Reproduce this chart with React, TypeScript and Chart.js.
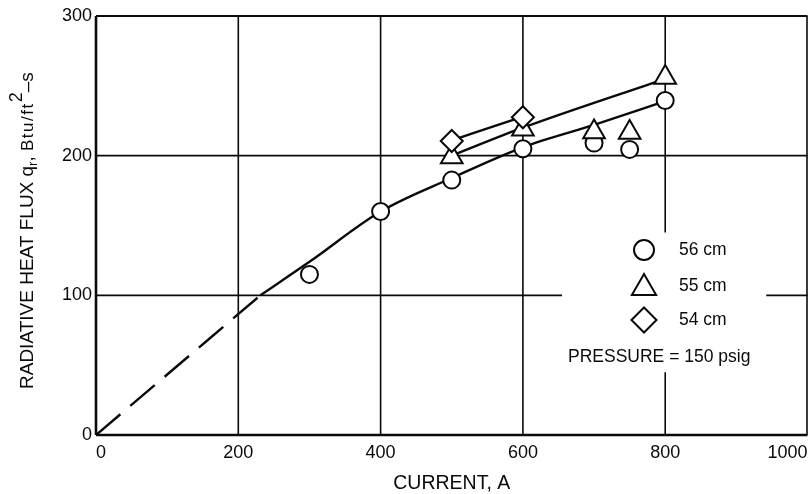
import React, { useEffect, useRef } from 'react';
import { Chart, registerables } from 'chart.js';

Chart.register(...registerables);

// ---- data ----
const xTickValues = [0, 200, 400, 600, 800, 1000];
const yTickValues = [0, 100, 200, 300];

const current56 = [300, 400, 500, 600, 700, 750, 800];
const flux56 = [115, 160, 182.5, 205, 209, 204.5, 239.5];

const current55 = [500, 600, 700, 750, 800];
const flux55 = [199, 219, 217, 216.5, 256];

const current54 = [500, 600];
const flux54 = [210.5, 227.5];

const fitDashX = [0, 231];
const fitDashY = [0, 100];
const fit56X = [231, 300, 400, 500, 600, 700, 800];
const fit56Y = [100, 124, 160, 184, 206, 222, 239];
const fit55X = [500, 600, 800];
const fit55Y = [200, 220, 255];
const fit54X = [500, 600];
const fit54Y = [211, 228];

const legendLabels = ['56 cm', '55 cm', '54 cm'];
const noteText = 'PRESSURE = 150 psig';
const xTitle = 'CURRENT, A';

const zip = (xs: number[], ys: number[]) => xs.map((x, i) => ({ x, y: ys[i] }));

const INK = '#0a0a0a';
const FONT = '"Liberation Sans", Arial, sans-serif';

const paperGrid = {
  id: 'paperGrid',
  beforeDatasetsDraw(chart: any) {
    const { ctx, chartArea: a, scales } = chart;
    const x = scales.x;
    const y = scales.y;
    const seg = (x0: number, y0: number, x1: number, y1: number, w: number) => {
      ctx.beginPath();
      ctx.lineWidth = w;
      ctx.moveTo(x0, y0);
      ctx.lineTo(x1, y1);
      ctx.stroke();
    };
    ctx.save();
    ctx.strokeStyle = INK;
    ctx.lineCap = 'butt';
    [200, 400, 600].forEach((v) => {
      const px = x.getPixelForValue(v);
      seg(px, a.top, px, a.bottom, 1.6);
    });
    const p800 = x.getPixelForValue(800);
    seg(p800, a.top, p800, y.getPixelForValue(145), 1.6);
    seg(p800, y.getPixelForValue(45), p800, a.bottom, 1.6);
    const p200 = y.getPixelForValue(200);
    seg(a.left, p200, a.right, p200, 1.6);
    const p100 = y.getPixelForValue(100);
    seg(a.left, p100, x.getPixelForValue(655), p100, 1.6);
    seg(x.getPixelForValue(942), p100, a.right, p100, 1.6);
    // frame
    seg(a.left, a.top, a.right, a.top, 2);
    seg(a.right - 0.5, a.top, a.right - 0.5, a.bottom, 1.6);
    seg(a.left, a.bottom, a.right, a.bottom, 2.6);
    seg(a.left, a.top, a.left, a.bottom, 2.6);
    ctx.restore();
  },
};

const drawCircle = (ctx: any, cx: number, cy: number, r: number) => {
  ctx.beginPath();
  ctx.arc(cx, cy, r, 0, Math.PI * 2);
  ctx.fill();
  ctx.stroke();
};
const drawTriangle = (ctx: any, cx: number, cy: number, r: number) => {
  ctx.beginPath();
  for (let i = 0; i < 3; i++) {
    const ang = (i * 2 * Math.PI) / 3;
    const px = cx + Math.sin(ang) * r;
    const py = cy - Math.cos(ang) * r;
    if (i === 0) ctx.moveTo(px, py);
    else ctx.lineTo(px, py);
  }
  ctx.closePath();
  ctx.fill();
  ctx.stroke();
};
const drawDiamond = (ctx: any, cx: number, cy: number, r: number) => {
  ctx.beginPath();
  ctx.moveTo(cx - r, cy);
  ctx.lineTo(cx, cy - r);
  ctx.lineTo(cx + r, cy);
  ctx.lineTo(cx, cy + r);
  ctx.closePath();
  ctx.fill();
  ctx.stroke();
};

const legendBox = {
  id: 'legendBox',
  afterDatasetsDraw(chart: any) {
    const { ctx, chartArea: a } = chart;
    ctx.save();
    ctx.strokeStyle = INK;
    ctx.fillStyle = '#fff';
    ctx.lineWidth = 2;
    const mx = a.left + 548;
    const tx = a.left + 583;
    const rows = [a.top + 234, a.top + 270, a.top + 304];
    drawCircle(ctx, mx, rows[0], 10);
    drawTriangle(ctx, mx, rows[1] + 2, 14);
    drawDiamond(ctx, mx, rows[2], 12.5);
    ctx.fillStyle = INK;
    ctx.font = `17.5px ${FONT}`;
    ctx.textBaseline = 'middle';
    ctx.textAlign = 'left';
    legendLabels.forEach((t, i) => ctx.fillText(t, tx, rows[i]));
    ctx.fillText(noteText, a.left + 472, a.top + 341);
    ctx.restore();
  },
};

const yTitle = {
  id: 'yTitle',
  afterDraw(chart: any) {
    const { ctx, chartArea: a } = chart;
    ctx.save();
    ctx.fillStyle = INK;
    ctx.textBaseline = 'alphabetic';
    ctx.textAlign = 'left';
    ctx.translate(33, a.top + 373);
    ctx.rotate(-Math.PI / 2);
    const parts: [string, number, number, number][] = [
      ['RADIATIVE HEAT FLUX q', 19, 0, 0],
      ['r', 13, 4, 0],
      [', ', 19, 0, 0],
      ['Btu/ft', 17, 0, 1.5],
      ['2', 18, -11, 0],
      ['\u2013s', 19, 0, 0],
    ];
    let pos = 0;
    parts.forEach(([t, size, dy, spacing]) => {
      ctx.font = `${size}px ${FONT}`;
      (ctx as any).letterSpacing = `${spacing}px`;
      ctx.fillText(t, pos, dy);
      pos += ctx.measureText(t).width;
    });
    ctx.restore();
  },
};

export default function App() {
  const ref = useRef<HTMLCanvasElement | null>(null);

  useEffect(() => {
    if (!ref.current) return;
    const markerBase = {
      type: 'scatter' as const,
      showLine: false,
      backgroundColor: '#fff',
      borderColor: INK,
      pointBorderWidth: 2,
    };
    const curveBase = {
      type: 'line' as const,
      borderColor: INK,
      borderWidth: 2.4,
      pointRadius: 0,
      fill: false,
      cubicInterpolationMode: 'monotone' as const,
      order: 10,
    };
    const chart = new Chart(ref.current, {
      type: 'scatter',
      data: {
        datasets: [
          { ...curveBase, label: 'fit dash', data: zip(fitDashX, fitDashY), borderDash: [32, 13] },
          { ...curveBase, label: 'fit 56', data: zip(fit56X, fit56Y) },
          { ...curveBase, label: 'fit 55', data: zip(fit55X, fit55Y) },
          { ...curveBase, label: 'fit 54', data: zip(fit54X, fit54Y) },
          { ...markerBase, label: '56 cm', data: zip(current56, flux56), pointStyle: 'circle', pointRadius: 8.5, order: 3 },
          { ...markerBase, label: '55 cm', data: zip(current55, flux55), pointStyle: 'triangle', pointRadius: 12.5, order: 2 },
          { ...markerBase, label: '54 cm', data: zip(current54, flux54), pointStyle: 'rectRot', pointRadius: 11, order: 1 },
        ] as any,
      },
      options: {
        animation: false,
        responsive: false,
        maintainAspectRatio: false,
        layout: { padding: { top: 16, right: 0, left: 0, bottom: 0 } },
        plugins: {
          legend: { display: false },
          tooltip: { enabled: false },
        },
        scales: {
          x: {
            type: 'linear',
            min: 0,
            max: 1000,
            afterBuildTicks: (s: any) => {
              s.ticks = xTickValues.map((v) => ({ value: v }));
            },
            afterFit: (s: any) => {
              s.height = 59;
              s.paddingLeft = 0;
              s.paddingRight = 0;
            },
            grid: { display: false, drawTicks: false },
            border: { display: false },
            ticks: {
              align: 'inner',
              padding: 7,
              color: INK,
              font: { family: FONT, size: 18 },
              callback: (v: any) => String(v),
            },
            title: {
              display: true,
              text: xTitle,
              color: INK,
              font: { family: FONT, size: 19.5 },
              padding: { top: 0, bottom: -1 },
            },
          },
          y: {
            type: 'linear',
            min: 0,
            max: 300,
            afterBuildTicks: (s: any) => {
              s.ticks = yTickValues.map((v) => ({ value: v }));
            },
            afterFit: (s: any) => {
              s.width = 96;
            },
            grid: { display: false, drawTicks: false },
            border: { display: false },
            ticks: {
              padding: 4,
              color: INK,
              font: { family: FONT, size: 18 },
              callback: (v: any) => String(v),
            },
          },
        },
      } as any,
      plugins: [paperGrid, legendBox, yTitle],
    });
    return () => chart.destroy();
  }, []);

  // The canvas is a little wider than the window: Chart.js reserves room for the
  // largest marker on the right, so the extra width puts the frame at the window edge.
  return (
    <div style={{ position: 'absolute', left: 0, top: 0, width: 808, height: 494, overflow: 'hidden', background: '#fff' }}>
      <canvas ref={ref} width={822} height={494} style={{ width: 822, height: 494, display: 'block' }} />
    </div>
  );
}
